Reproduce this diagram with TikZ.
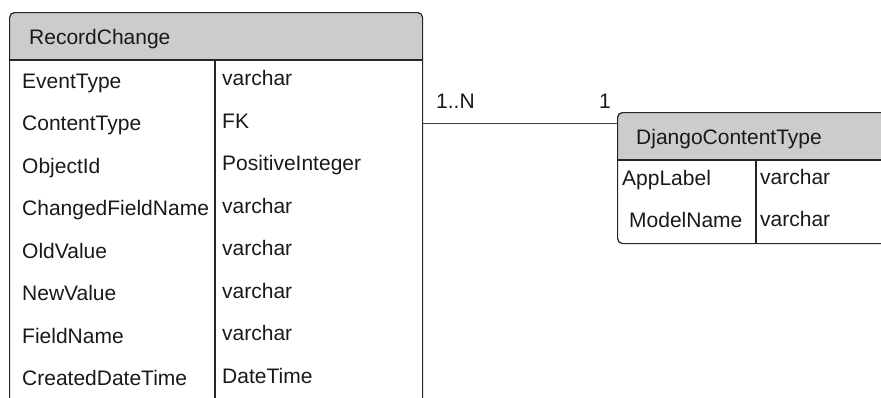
\documentclass[tikz,border=0pt]{standalone}
\usepackage{fontspec}
\setmainfont{Liberation Sans}
\begin{document}
\begin{tikzpicture}[x=1pt,y=-1pt,
  txt/.style={inner sep=0pt, anchor=base west, text=black!90, font=\fontsize{21}{24}\selectfont},
  head/.style={inner sep=0pt, anchor=base west, text=black!90, font=\fontsize{21}{24}\selectfont},
  tbl/.style={draw=black!85, line width=1.2pt, rounded corners=5pt, inner sep=0pt, anchor=north west},
  sep/.style={draw=black!85, line width=1.2pt}]
\useasboundingbox (0,0) rectangle (881,397);
\definecolor{headgray}{HTML}{CCCCCC}
% header fills
\begin{scope}
  \clip[rounded corners=5pt] (9,12) rectangle (422,440);
  \fill[headgray] (9,12) rectangle (422,60);
\end{scope}
\begin{scope}
  \clip[rounded corners=5pt] (617,112) rectangle (920,243);
  \fill[headgray] (617,112) rectangle (920,160);
\end{scope}
% tables
\node[tbl, minimum width=413pt, minimum height=428pt] (rc) at (9,12) {};
\node[tbl, minimum width=303pt, minimum height=131pt] (dj) at (617,112) {};
% internal lines
\coordinate (rch) at (0,60);
\coordinate (rcd) at (215,0);
\coordinate (djh) at (0,160);
\coordinate (djd) at (756,0);
\coordinate (rcb) at (0,440);
\path[sep] (rc.west |- rch) -- (rc.east |- rch);
\path[sep] (rcd |- rch) -- (rcd |- rcb);
\path[sep] (dj.west |- djh) -- (dj.east |- djh);
\path[sep] (djd |- djh) -- (djd |- dj.south);
% titles
\node[head] (rct) at (29,44) {RecordChange};
\node[head] (djt) at (636,144) {DjangoContentType};
% RecordChange rows
\node[txt] (a1) at (22,88) {EventType};
\node[txt] (a2) at (22,130.5) {ContentType};
\node[txt] (a3) at (22,173) {ObjectId};
\node[txt] (a4) at (22,215.5) {ChangedFieldName};
\node[txt] (a5) at (22,258) {OldValue};
\node[txt] (a6) at (22,300.5) {NewValue};
\node[txt] (a7) at (22,343) {FieldName};
\node[txt] (a8) at (22,385.5) {CreatedDateTime};
\node[txt] (b1) at (222,85.5) {varchar};
\node[txt] (b2) at (222,128) {FK};
\node[txt] (b3) at (222,170.5) {PositiveInteger};
\node[txt] (b4) at (222,213) {varchar};
\node[txt] (b5) at (222,255.5) {varchar};
\node[txt] (b6) at (222,298) {varchar};
\node[txt] (b7) at (222,340.5) {varchar};
\node[txt] (b8) at (222,383) {DateTime};
% DjangoContentType rows
\node[txt] (c1) at (622,185) {AppLabel};
\node[txt] (c2) at (629,227) {ModelName};
\node[txt] (d1) at (760,184) {varchar};
\node[txt] (d2) at (760,226) {varchar};
% connector
\coordinate (cy) at (0,123);
\draw[black!75, line width=0.9pt] (rc.east |- cy) -- (dj.west |- cy);
\node[txt] (m1) at (436,108) {1..N};
\node[txt] (m2) at (599,108) {1};
\end{tikzpicture}
\end{document}
